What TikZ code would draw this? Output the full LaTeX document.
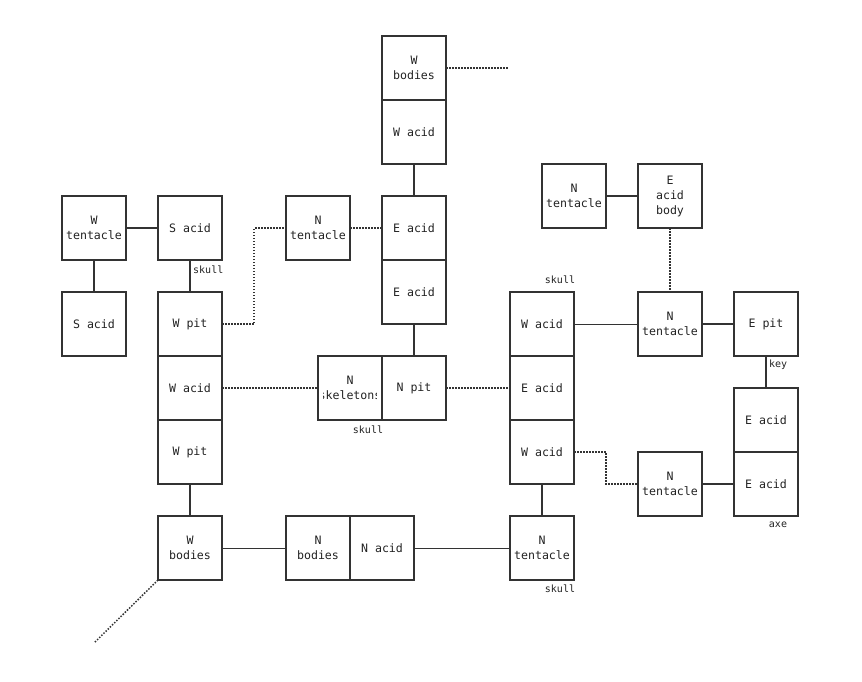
\documentclass[tikz,border=0pt]{standalone}
\usepackage{fontspec}
\setmonofont{DejaVu Sans Mono}
\definecolor{ln}{HTML}{333333}
\definecolor{tx}{HTML}{222222}
\begin{document}
\begin{tikzpicture}[x=1pt,y=-1pt,
  box/.style={draw=ln, line width=1.7pt, minimum size=64pt, inner sep=0pt, outer sep=0pt, anchor=north west, font=\ttfamily\fontsize{11.6}{15}\selectfont, align=center, text=tx},
  thk/.style={draw=ln, line width=2pt},
  thn/.style={draw=ln, line width=1pt},
  dot/.style={draw=ln, line width=1.5pt, dash pattern=on 1.5pt off 1.5pt},
  thkdot/.style={draw=ln, line width=2pt, dash pattern=on 2.2pt off 0.8pt},
  lbl/.style={font=\ttfamily\fontsize{10}{12}\selectfont, text=tx, inner sep=0pt}]
\useasboundingbox (0,0) rectangle (862,681);

% nodes
\node[box] (wb1) at (382,36) {W\\bodies};
\node[box] (wa1) at (382,100) {W acid};
\node[box] (ea1) at (382,196) {E acid};
\node[box] (ea2) at (382,260) {E acid};
\node[box] (nt1) at (286,196) {N\\tentacle};
\node[box] (wt) at (62,196) {W\\tentacle};
\node[box] (sa1) at (158,196) {S acid};
\node[box] (sa2) at (62,292) {S acid};
\node[box] (wp1) at (158,292) {W pit};
\node[box] (wa2) at (158,356) {W acid};
\node[box] (wp2) at (158,420) {W pit};
\node[box] (wb2) at (158,516) {W\\bodies};
\node[box] (nb) at (286,516) {N\\bodies};
\node[box] (na) at (350,516) {N acid};
\node[box] (nt2) at (510,516) {N\\tentacle};
\node[box] (nsk) at (318,356) {};
\begin{scope}
  \clip (323.5,359) rectangle (376.5,417);
  \node[font=\ttfamily\fontsize{11.6}{15}\selectfont, align=center, text=tx, inner sep=0pt] (nsktext) at (nsk.center) {N\\skeletons};
\end{scope}
\node[box] (np) at (382,356) {N pit};
\node[box] (wa3) at (510,292) {W acid};
\node[box] (ea3) at (510,356) {E acid};
\node[box] (wa4) at (510,420) {W acid};
\node[box] (nt3) at (542,164) {N\\tentacle};
\node[box] (eab) at (638,164) {E\\acid\\body};
\node[box] (nt4) at (638,292) {N\\tentacle};
\node[box] (ep) at (734,292) {E pit};
\node[box] (ea4) at (734,388) {E acid};
\node[box] (ea5) at (734,452) {E acid};
\node[box] (nt5) at (638,452) {N\\tentacle};

\coordinate (endtop) at (508,68);
\coordinate (endbot) at (94,643);

% connectors
\draw[dot] (wb1.east) -- (endtop);
\draw[thk] (wa1.south) -- (ea1.north);
\draw[thkdot] (nt1.east) -- (ea1.west);
\draw[thk] (wt.east) -- (sa1.west);
\draw[thk] (wt.south) -- (sa2.north);
\draw[thk] (sa1.south) -- (wp1.north);
\draw[dot] (wp1.east) -- ++(32,0) |- (nt1.west);
\draw[thk] (ea2.south) -- (np.north);
\draw[dot] (wa2.east) -- (nsk.west);
\draw[dot] (np.east) -- (ea3.west);
\draw[thk] (wp2.south) -- (wb2.north);
\draw[thn] (wb2.east) -- (nb.west);
\draw[thn] (na.east) -- (nt2.west);
\draw[thk] (wa4.south) -- (nt2.north);
\draw[dot] (wb2.south west) -- (endbot);
\draw[thn] (wa3.east) -- (nt4.west);
\draw[thk] (nt3.east) -- (eab.west);
\draw[dot] (eab.south) -- (nt4.north);
\draw[thk] (nt4.east) -- (ep.west);
\draw[thk] (ep.south) -- (ea4.north);
\draw[dot] (wa4.east) -- ++(32,0) |- (nt5.west);
\draw[thk] (nt5.east) -- (ea5.west);

% labels
\node[lbl, anchor=west] (l1) at (193,270) {skull};
\node[lbl] (l2) at (560,280) {skull};
\node[lbl] (l3) at (368,430) {skull};
\node[lbl] (l4) at (560,589) {skull};
\node[lbl, anchor=west] (l5) at (769,365) {key};
\node[lbl] (l6) at (778,525) {axe};
\end{tikzpicture}
\end{document}
